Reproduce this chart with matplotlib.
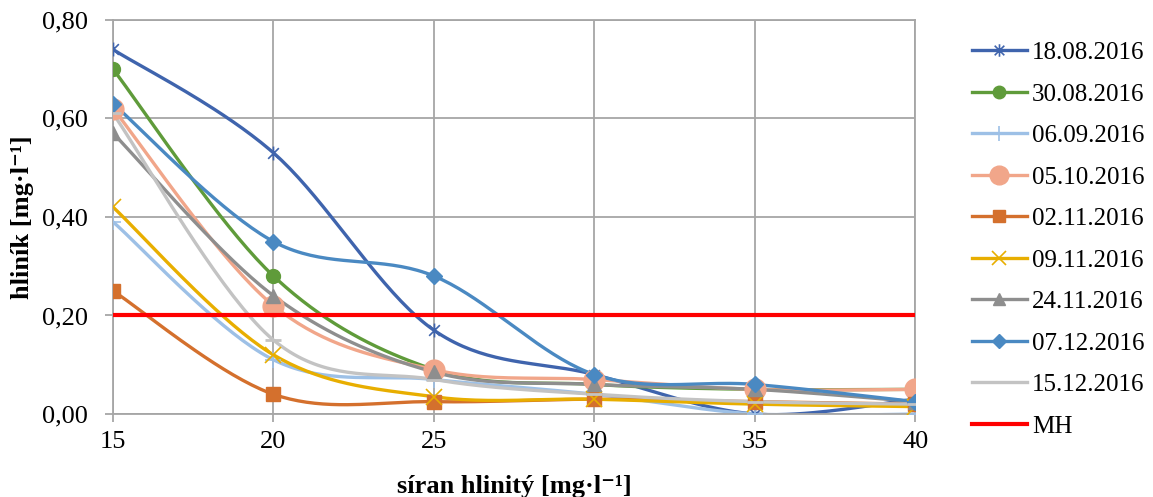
#!/usr/bin/env python3
# hlinik vs. dose of aluminium sulphate, Excel-like smoothed lines
import numpy as np
import matplotlib
matplotlib.use("Agg")
import matplotlib.pyplot as plt
from matplotlib.path import Path

plt.rcParams['font.family'] = ['Liberation Serif', 'DejaVu Serif']

dose = [15, 20, 25, 30, 35, 40]
labels = ["18.08.2016", "30.08.2016", "06.09.2016", "05.10.2016", "02.11.2016",
          "09.11.2016", "24.11.2016", "07.12.2016", "15.12.2016"]
s_1808 = [0.74, 0.53, 0.17, 0.08, 0.00, 0.03]
s_3008 = [0.70, 0.28, 0.09, 0.06, 0.05, 0.05]
s_0609 = [0.39, 0.11, 0.07, 0.04, 0.00, 0.00]
s_0510 = [0.62, 0.22, 0.09, 0.07, 0.05, 0.05]
s_0211 = [0.25, 0.04, 0.025, 0.03, 0.025, 0.02]
s_0911 = [0.42, 0.12, 0.035, 0.03, 0.02, 0.015]
s_2411 = [0.57, 0.24, 0.085, 0.06, 0.05, 0.025]
s_0712 = [0.63, 0.35, 0.28, 0.08, 0.06, 0.025]
s_1512 = [0.61, 0.15, 0.07, 0.04, 0.025, 0.02]
mh = 0.20

series = [s_1808, s_3008, s_0609, s_0510, s_0211, s_0911, s_2411, s_0712, s_1512]

# excel "star" marker: x plus vertical bar
star = Path([(-1, -1), (1, 1), (-1, 1), (1, -1), (0, -1.3), (0, 1.3)],
            [Path.MOVETO, Path.LINETO, Path.MOVETO, Path.LINETO, Path.MOVETO, Path.LINETO])

styles = [
    dict(color='#3F64AD', marker=star, ms=10, mew=1.2),
    dict(color='#5F9B3A', marker='o', ms=10),
    dict(color='#9DC0E6', marker='+', ms=12, mew=1.2),
    dict(color='#F1A68A', marker='o', ms=15),
    dict(color='#D4702D', marker='s', ms=10),
    dict(color='#E8AE00', marker='x', ms=11, mew=1.2),
    dict(color='#8E8E8E', marker='^', ms=10),
    dict(color='#4A89C2', marker='D', ms=8),
    dict(color='#C3C3C3', marker='_', ms=12, mew=2),
]


def smooth(x, y, n=40):
    '''Bezier smoothing as excel does it (catmull-rom style control points).'''
    p = np.column_stack([x, y]).astype(float)
    pts = np.vstack([p[0], p, p[-1]])
    t = np.linspace(0, 1, n)[:, None]
    out = []
    for i in range(1, len(pts) - 2):
        p0, p1, p2, p3 = pts[i - 1], pts[i], pts[i + 1], pts[i + 2]
        c1 = p1 + (p2 - p0) / 6
        c2 = p2 - (p3 - p1) / 6
        seg = ((1 - t) ** 3) * p1 + 3 * ((1 - t) ** 2) * t * c1 + 3 * (1 - t) * t ** 2 * c2 + t ** 3 * p2
        out.append(seg if i == 1 else seg[1:])
    out = np.vstack(out)
    return out[:, 0], out[:, 1]


fig = plt.figure(figsize=(11.53, 4.97), dpi=100)
ax = fig.add_axes([0.098, 0.167, 0.696, 0.793])

handles = []
for vals, lab, st in zip(series, labels, styles):
    sx, sy = smooth(dose, vals)
    ax.plot(sx, sy, color=st['color'], lw=2.4, solid_capstyle='round', zorder=2)
    ax.plot(dose, vals, ls='none', marker=st['marker'], ms=st['ms'],
            mew=st.get('mew', 1), color=st['color'], zorder=3)
    h, = ax.plot([], [], color=st['color'], lw=2.4, marker=st['marker'],
                 ms=st['ms'], mew=st.get('mew', 1), label=lab)
    handles.append(h)

hmh, = ax.plot([dose[0], dose[-1]], [mh, mh], color='#FF0000', lw=3, zorder=4, label='MH')
handles.append(hmh)

ax.set_xlim(15, 40)
ax.set_ylim(0, 0.8)
ax.set_xticks(dose)
ax.set_yticks([0, 0.2, 0.4, 0.6, 0.8])
ax.set_yticklabels(['0,00', '0,20', '0,40', '0,60', '0,80'])
ax.grid(True, color='#A6A6A6', lw=1.3)
ax.set_axisbelow(True)
for s in ax.spines.values():
    s.set_color('#A6A6A6')
    s.set_linewidth(1.3)
ax.tick_params(colors='#A6A6A6', labelcolor='black', labelsize=19, length=6, width=1.3)
ax.tick_params(axis='y', pad=12)
ax.tick_params(axis='x', pad=6)

ax.set_ylabel('hliník [mg·l⁻¹]', fontsize=19, fontweight='bold', labelpad=6)
ax.set_xlabel('síran hlinitý [mg·l⁻¹]', fontsize=19, fontweight='bold', labelpad=16)

fig.legend(handles=handles, loc='center left', bbox_to_anchor=(0.832, 0.518),
           frameon=False, fontsize=18, borderpad=0, handlelength=2.2,
           handletextpad=0.2, labelspacing=0.76, markerscale=0.9)

fig.savefig('out.png', dpi=100)
